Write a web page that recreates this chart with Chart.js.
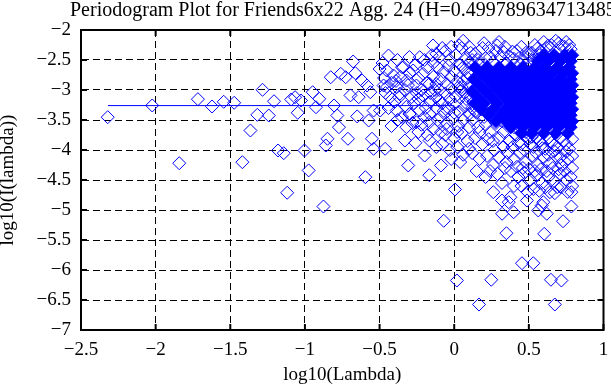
<!DOCTYPE html>
<html>
<head>
<meta charset="utf-8">
<script src="https://cdn.jsdelivr.net/npm/chart.js@4.4.1/dist/chart.umd.min.js"></script>
<style>
body { margin: 0; background: #fff; }
#wrap { width: 611px; height: 385px; }
</style>
</head>
<body>
<div id="wrap"><canvas id="periodogram" width="611" height="385"></canvas></div>
<script>
const plotTitle = 'Periodogram Plot for Friends6x22 Agg. 24 (H=0.499789634713485)';
const xTitle = 'log10(Lambda)';
const yTitle = 'log10(I(lambda))';

const xTicks = [-2.5, -2, -1.5, -1, -0.5, 0, 0.5, 1];
const yTicks = [-7, -6.5, -6, -5.5, -5, -4.5, -4, -3.5, -3, -2.5, -2];

// fitted line (slope ~0 for H ~ 0.5)
const fitLog = [-2.32, 0.0];
const fitVal = [-3.26, -3.26];

// single points read one by one
const sparsePoints = [
    [-2.321, -3.453], [-2.023, -3.258], [-1.842, -4.22], [-1.717, -3.153], [-1.622, -3.275],
    [-1.544, -3.197], [-1.474, -3.213], [-1.284, -2.997], [-1.365, -3.675], [-1.319, -3.414],
    [-1.242, -3.425], [-1.419, -4.203], [-1.207, -3.187], [-1.18, -4.008], [-1.142, -4.053],
    [-1.119, -4.713], [-1.092, -3.158], [-1.066, -3.12], [-1.026, -3.175], [-1.048, -3.38],
    [-1.003, -4.008], [-0.975, -4.34],
    [-0.677, -2.525], [-0.827, -2.787], [-0.76, -2.73], [-0.727, -2.787], [-0.662, -2.72],
    [-0.617, -2.842], [-0.584, -2.925], [-0.562, -3.037], [-0.695, -3.09], [-0.64, -3.12],
    [-0.948, -3.037], [-0.904, -3.147], [-0.926, -3.287], [-0.805, -3.258], [-0.65, -3.44],
    [-0.783, -3.425], [-0.772, -3.62], [-0.573, -3.508], [-0.54, -3.342], [-0.496, -3.342],
    [-0.849, -3.813], [-0.86, -3.925], [-0.712, -3.813], [-0.551, -3.813], [-0.54, -3.98],
    [-0.595, -4.453], [-0.463, -3.98], [-0.44, -2.425], [-0.452, -2.675], [-0.407, -2.758],
    [-0.473, -2.925], [-0.385, -2.953], [-0.341, -2.62], [-0.231, -2.453], [-0.142, -2.258],
    [-0.12, -2.397], [-0.275, -2.675], [-0.209, -2.73], [-0.32, -2.842], [-0.253, -2.925],
    [-0.165, -2.897], [-0.43, -3.12], [-0.364, -3.063], [-0.286, -3.12], [-0.209, -3.092],
    [-0.12, -3.12], [-0.385, -3.342], [-0.297, -3.397], [-0.231, -3.342], [-0.165, -3.397],
    [-0.32, -3.62], [-0.253, -3.537], [-0.165, -3.537], [-0.33, -3.842], [-0.165, -3.842],
    [-0.088, -3.703], [-0.308, -4.258], [-0.198, -4.092], [-0.167, -4.42], [-0.088, -4.258],
    [-0.876, -4.942], [-0.07, -5.18],
    [0.018, -6.175], [0.248, -6.163], [0.166, -6.575], [0.35, -5.387], [0.321, -5.063],
    [0.398, -5.037], [0.454, -5.887], [0.53, -5.887], [0.603, -5.397], [0.648, -6.163],
    [0.718, -6.175], [0.674, -6.575], [0.729, -5.187], [0.785, -4.942], [0.563, -5.008],
    [0.62, -5.063], [0.586, -4.925], [0.005, -4.658], [0.262, -4.703], [0.365, -4.87],
    [0.376, -4.787], [0.487, -4.842], [0.597, -4.87], [0.641, -4.703], [0.714, -4.62],
    [0.785, -4.703], [0.32, -4.842], [0.674, -4.72],
    [0.034, -2.258], [0.288, -2.258], [0.332, -2.37], [0.63, -2.258], [0.718, -2.258]
];

// overlapping points round the dense mass
const fringePoints = [
    [-0.10, -2.45], [-0.06, -2.35], [-0.03, -2.5], [0.01, -2.42], [0.05, -2.3], [0.08, -2.48], [0.11, -2.38],
    [-0.11, -2.62], [-0.07, -2.7], [-0.04, -2.6], [0.0, -2.68], [0.04, -2.58], [0.07, -2.66], [0.1, -2.55],
    [-0.09, -2.82], [-0.05, -2.9], [-0.02, -2.78], [0.02, -2.86], [0.05, -2.95], [0.09, -2.8],
    [-0.1, -3.0], [-0.06, -3.06], [-0.02, -2.98], [0.01, -3.1], [0.04, -3.02], [0.08, -3.15],
    [-0.08, -3.22], [-0.04, -3.3], [0.0, -3.24], [0.03, -3.36], [0.07, -3.28], [0.1, -3.4],
    [-0.09, -3.45], [-0.05, -3.55], [-0.01, -3.48], [0.03, -3.6], [0.06, -3.5], [0.1, -3.62],
    [-0.06, -3.75], [0.0, -3.8], [0.05, -3.72], [0.09, -3.85],
    [-0.08, -3.9], [-0.03, -4.0], [0.02, -3.95], [0.06, -4.08], [0.1, -3.98], [0.04, -4.2], [-0.02, -4.15],
    [-0.47, -2.8], [-0.42, -2.88], [-0.36, -2.78], [-0.3, -2.72], [-0.24, -2.8], [-0.18, -2.62], [-0.14, -2.78],
    [-0.46, -3.05], [-0.4, -3.2], [-0.33, -3.0], [-0.27, -3.22], [-0.22, -3.0], [-0.16, -3.2], [-0.13, -3.0],
    [-0.44, -3.3], [-0.35, -3.45], [-0.2, -3.45], [-0.12, -3.3], [-0.28, -3.55], [-0.14, -3.65],
    [-0.42, -3.6], [-0.24, -3.7],
    [0.12, -3.5], [0.16, -3.62], [0.2, -3.45], [0.24, -3.7], [0.28, -3.55], [0.14, -3.8], [0.19, -3.9],
    [0.23, -3.82], [0.27, -4.0], [0.3, -3.8], [0.12, -4.05], [0.17, -4.15], [0.22, -4.1], [0.26, -4.25],
    [0.3, -4.12], [0.15, -4.35], [0.21, -4.45], [0.29, -4.4], [0.34, -4.3],
    [0.33, -3.7], [0.37, -3.85], [0.41, -3.75], [0.45, -3.9], [0.49, -3.8], [0.53, -3.95], [0.57, -3.85],
    [0.61, -3.98], [0.65, -3.88], [0.69, -3.95], [0.73, -3.85], [0.77, -3.98], [0.36, -4.05], [0.4, -4.15],
    [0.44, -4.05], [0.48, -4.2], [0.52, -4.1], [0.56, -4.25], [0.6, -4.12], [0.64, -4.22], [0.68, -4.1],
    [0.72, -4.25], [0.76, -4.15], [0.79, -4.3], [0.38, -4.35], [0.43, -4.45], [0.47, -4.38], [0.51, -4.5],
    [0.55, -4.42], [0.59, -4.55], [0.63, -4.45], [0.67, -4.52], [0.71, -4.4], [0.75, -4.5], [0.79, -4.6],
    [0.45, -4.6], [0.53, -4.65],
    [0.14, -2.4], [0.19, -2.3], [0.24, -2.45], [0.28, -2.35], [0.37, -2.44], [0.42, -2.35], [0.46, -2.5],
    [0.5, -2.4], [0.53, -2.5], [0.56, -2.3], [0.6, -2.2], [0.65, -2.25], [0.68, -2.18], [0.74, -2.28],
    [0.75, -2.2], [0.78, -2.32], [0.3, -2.2], [0.2, -2.22], [0.06, -2.18]
];

// more overlapping points: edges of the mass and the mesh left of it
const meshPoints = [
    [0.12, -2.5], [0.17, -2.56], [0.21, -2.47], [0.26, -2.53], [0.31, -2.45], [0.35, -2.55], [0.4, -2.48],
    [0.44, -2.57], [0.49, -2.46], [0.52, -2.38], [0.57, -2.42],
    [0.06, -2.62], [0.09, -2.72], [0.06, -2.85], [0.1, -2.93], [0.07, -3.05], [0.11, -3.12], [0.08, -3.22],
    [0.12, -3.3], [0.15, -3.38], [0.13, -3.2],
    [0.14, -3.35], [0.18, -3.3], [0.22, -3.38], [0.25, -3.47], [0.29, -3.4], [0.32, -3.52], [0.36, -3.6],
    [0.4, -3.62], [0.44, -3.68], [0.48, -3.7], [0.52, -3.78],
    [0.55, -3.8], [0.59, -3.9], [0.63, -3.8], [0.67, -3.92], [0.71, -3.8], [0.75, -3.9], [0.79, -3.82],
    [-0.48, -2.55], [-0.38, -2.5], [-0.3, -2.45], [-0.2, -2.5], [-0.15, -2.42], [-0.08, -2.3], [-0.02, -2.28],
    [-0.35, -2.62], [-0.26, -2.58], [-0.14, -2.55], [-0.5, -2.65],
    [-0.45, -2.95], [-0.39, -2.85], [-0.31, -2.92], [-0.25, -3.05], [-0.18, -2.88], [-0.12, -2.9], [-0.16, -3.05],
    [-0.37, -3.12], [-0.32, -3.28], [-0.24, -3.15], [-0.19, -3.3], [-0.1, -3.18], [-0.07, -3.35],
    [-0.38, -3.5], [-0.3, -3.4], [-0.22, -3.58], [-0.11, -3.5], [-0.18, -3.75], [-0.26, -3.88], [-0.12, -3.95],
    [-0.05, -3.65], [0.02, -3.7], [0.0, -3.38], [-0.03, -3.15], [0.03, -2.95],
    [0.17, -3.7], [0.21, -3.58], [0.26, -3.85], [0.33, -3.95], [0.39, -3.95], [0.43, -3.88], [0.47, -4.0],
    [0.51, -3.9], [0.55, -4.05], [0.59, -3.97], [0.63, -4.08], [0.67, -4.02], [0.71, -4.12], [0.75, -4.03],
    [0.79, -4.1], [0.35, -4.2], [0.42, -4.28], [0.46, -4.3], [0.5, -4.32], [0.54, -4.35], [0.58, -4.32],
    [0.62, -4.35], [0.66, -4.3], [0.7, -4.32], [0.74, -4.35], [0.78, -4.45], [0.24, -4.35], [0.32, -4.55],
    [0.4, -4.6], [0.49, -4.7], [0.57, -4.68], [0.61, -4.62], [0.69, -4.62], [0.76, -4.7],
    [0.1, -2.28], [0.16, -2.5], [0.23, -2.3], [0.34, -2.28], [0.39, -2.36], [0.45, -2.28], [0.48, -2.38],
    [0.54, -2.25], [0.58, -2.35], [0.62, -2.3], [0.7, -2.22], [0.77, -2.25]
];

// solid mass where the markers pile up: one level per row
const coreVal = [-2.42, -2.52, -2.62, -2.72, -2.82, -2.92, -3.02, -3.12, -3.22, -3.32, -3.42, -3.52, -3.62, -3.72];
const coreLog = [
    [0.60, 0.67, 0.74, 0.79],
    [0.56, 0.63, 0.71, 0.78],
    [0.14, 0.22, 0.30, 0.38, 0.46, 0.54, 0.61, 0.69, 0.77],
    [0.18, 0.26, 0.34, 0.42, 0.50, 0.58, 0.65, 0.73, 0.79],
    [0.13, 0.22, 0.30, 0.38, 0.46, 0.54, 0.62, 0.70, 0.78],
    [0.17, 0.26, 0.34, 0.42, 0.50, 0.58, 0.66, 0.74, 0.79],
    [0.12, 0.21, 0.30, 0.38, 0.46, 0.54, 0.62, 0.70, 0.78],
    [0.16, 0.25, 0.34, 0.42, 0.50, 0.58, 0.66, 0.74, 0.79],
    [0.14, 0.20, 0.29, 0.38, 0.46, 0.54, 0.62, 0.70, 0.78],
    [0.18, 0.26, 0.34, 0.42, 0.50, 0.58, 0.66, 0.74, 0.79],
    [0.23, 0.31, 0.38, 0.46, 0.54, 0.62, 0.70, 0.78],
    [0.28, 0.35, 0.42, 0.50, 0.58, 0.66, 0.74, 0.79],
    [0.38, 0.46, 0.54, 0.62, 0.70, 0.78],
    [0.45, 0.52, 0.60, 0.68, 0.76]
];

const BLUE = '#0000ff';
const SERIF = '"Liberation Serif", "Times New Roman", serif';

function tickText(v) {
    return v < 0 ? '\u2212' + Math.abs(v) : String(v);
}

const toXY = p => ({ x: p[0], y: p[1] });
const corePoints = [];
coreVal.forEach((y, i) => coreLog[i].forEach(x => corePoints.push({ x, y })));

const framePlugin = {
    id: 'frame',
    afterDraw(chart) {
        const { ctx, chartArea: a, scales: { x, y } } = chart;
        ctx.save();
        ctx.strokeStyle = '#000';
        ctx.lineWidth = 2;
        ctx.strokeRect(a.left, a.top, a.right - a.left, a.bottom - a.top);
        ctx.beginPath();
        xTicks.forEach(v => {
            const px = x.getPixelForValue(v);
            ctx.moveTo(px, a.bottom); ctx.lineTo(px, a.bottom - 6);
            ctx.moveTo(px, a.top); ctx.lineTo(px, a.top + 6);
        });
        yTicks.forEach(v => {
            const py = y.getPixelForValue(v);
            ctx.moveTo(a.left, py); ctx.lineTo(a.left + 6, py);
            ctx.moveTo(a.right, py); ctx.lineTo(a.right - 6, py);
        });
        ctx.stroke();
        ctx.fillStyle = '#000';
        ctx.font = '20px ' + SERIF;
        ctx.textBaseline = 'alphabetic';
        ctx.textAlign = 'left';
        ctx.fillText(plotTitle, 70, 16);
        ctx.restore();
    }
};

const hollow = {
    pointStyle: 'rectRot',
    pointRadius: 6.5,
    borderColor: BLUE,
    borderWidth: 1,
    backgroundColor: 'rgba(0,0,0,0)'
};

const canvas = document.getElementById('periodogram');
new Chart(canvas, {
    type: 'scatter',
    data: {
        datasets: [
            {
                label: 'fit',
                type: 'line',
                data: fitLog.map((x, i) => ({ x, y: fitVal[i] })),
                borderColor: BLUE,
                borderWidth: 1,
                pointRadius: 0,
                fill: false
            },
            Object.assign({ label: 'periodogram', data: sparsePoints.map(toXY) }, hollow),
            Object.assign({ label: 'fringe', data: fringePoints.map(toXY) }, hollow),
            Object.assign({ label: 'mesh', data: meshPoints.map(toXY) }, hollow),
            {
                label: 'dense',
                data: corePoints,
                pointStyle: 'rectRot',
                pointRadius: 6.5,
                borderColor: BLUE,
                borderWidth: 1,
                backgroundColor: BLUE
            }
        ]
    },
    options: {
        responsive: false,
        animation: false,
        layout: { padding: { top: 30, right: 2, left: 0, bottom: 0 } },
        plugins: {
            legend: { display: false },
            tooltip: { enabled: false }
        },
        scales: {
            x: {
                type: 'linear',
                min: -2.5,
                max: 1,
                afterBuildTicks: s => { s.ticks = xTicks.map(v => ({ value: v })); },
                afterFit: s => { s.height = 55; s.paddingLeft = 0; s.paddingRight = 0; },
                grid: { color: '#000', lineWidth: 1, drawTicks: false },
                border: { display: true, color: '#000', width: 2, dash: [7, 4] },
                ticks: {
                    color: '#000',
                    padding: 9,
                    maxRotation: 0,
                    autoSkip: false,
                    font: { family: SERIF, size: 19 },
                    callback: v => tickText(v)
                },
                title: {
                    display: true,
                    text: xTitle,
                    color: '#000',
                    padding: { top: 0, bottom: 0 },
                    font: { family: SERIF, size: 19, lineHeight: 1.1 }
                }
            },
            y: {
                type: 'linear',
                min: -7,
                max: -2,
                afterBuildTicks: s => { s.ticks = yTicks.map(v => ({ value: v })); },
                afterFit: s => { s.width = 81; s.paddingTop = 0; s.paddingBottom = 0; },
                grid: { color: '#000', lineWidth: 1, drawTicks: false },
                border: { display: true, color: '#000', width: 2, dash: [7, 4] },
                ticks: {
                    color: '#000',
                    padding: 10,
                    autoSkip: false,
                    font: { family: SERIF, size: 19 },
                    callback: v => tickText(v)
                },
                title: {
                    display: true,
                    text: yTitle,
                    color: '#000',
                    padding: { top: 0, bottom: 0 },
                    font: { family: SERIF, size: 19, lineHeight: 0.85 }
                }
            }
        }
    },
    plugins: [framePlugin]
});
</script>
</body>
</html>
